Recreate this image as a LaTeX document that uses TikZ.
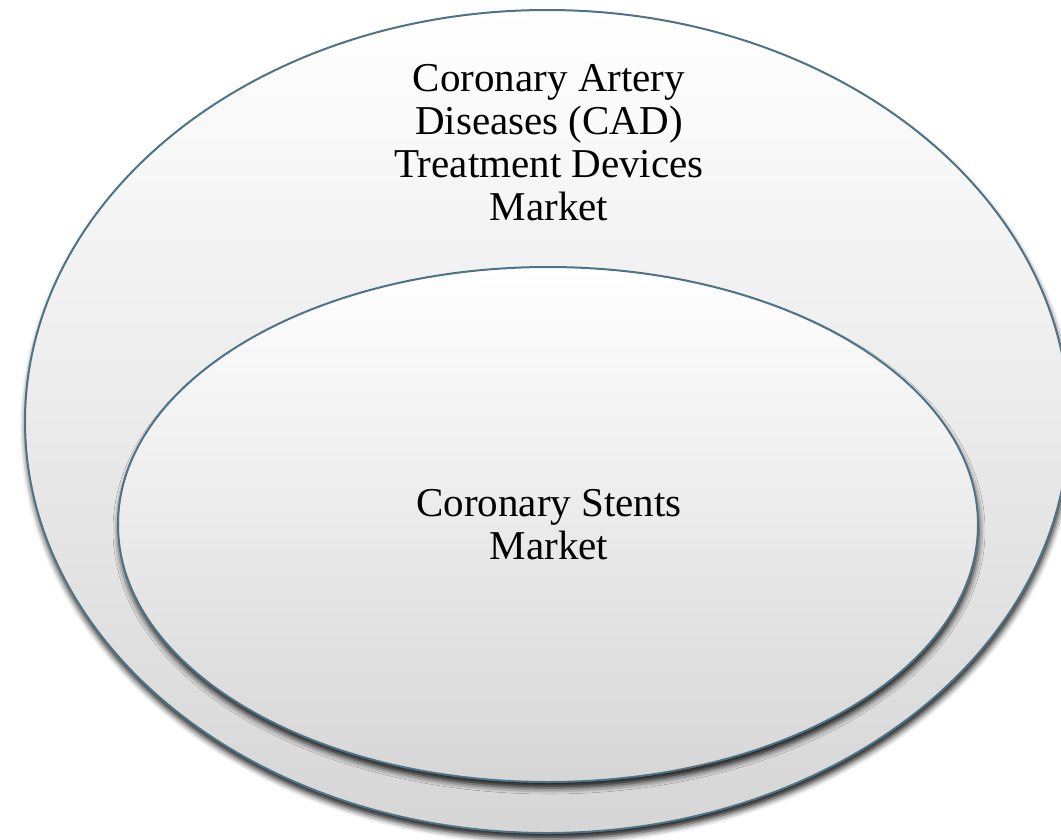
\documentclass[tikz,border=0pt]{standalone}
\usepackage{fontspec}
\setmainfont{Liberation Serif}
\usetikzlibrary{shadows.blur}
\definecolor{rim}{HTML}{4F7386}
\definecolor{lowgray}{HTML}{D6D6D6}
\tikzset{
  disc/.style={draw=rim, line width=2pt, top color=white, bottom color=lowgray,
    blur shadow={shadow xshift=1pt, shadow yshift=-6pt, shadow blur radius=6pt, shadow opacity=90}},
  label/.style={align=center, inner sep=0pt, anchor=north, font=\fontsize{41}{43}\selectfont}
}
\begin{document}
\begin{tikzpicture}[x=1pt,y=-1pt]
\useasboundingbox (0,0) rectangle (1061,839);
\path[disc] (547,421.5) ellipse [x radius=522, y radius=411.5];
\path[disc] (548,524.5) ellipse [x radius=430, y radius=257.5];
\node[label] (outer) at (549,64) {Coronary Artery\\Diseases (CAD)\\Treatment Devices\\Market};
\node[label] (inner) at (549,489) {Coronary Stents\\Market};
\end{tikzpicture}
\end{document}
